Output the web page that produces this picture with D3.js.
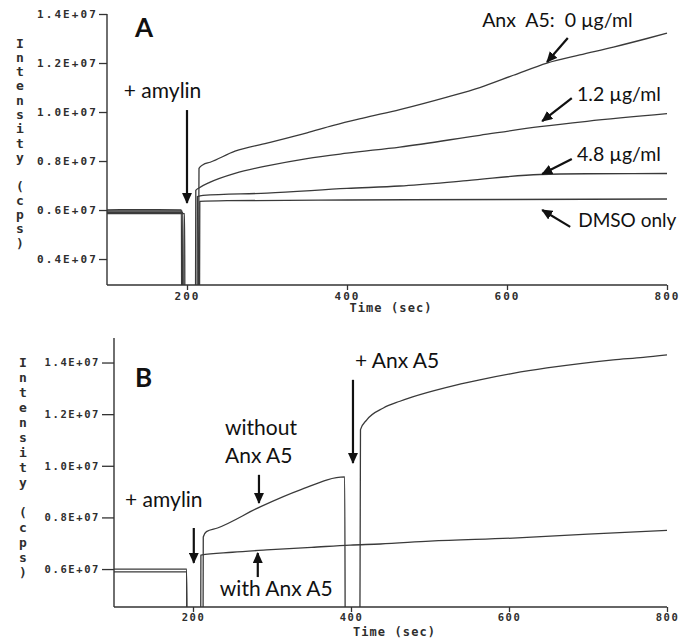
<!DOCTYPE html>
<html><head><meta charset="utf-8">
<script src="https://cdn.jsdelivr.net/npm/d3@7"></script>
<style>
body{margin:0;background:#fff;}
svg{display:block;}
.tick text,.axlab{font-family:"DejaVu Sans Mono",monospace;font-weight:bold;fill:#2e2e2e;}
.ann{font-family:Lato,"Open Sans",sans-serif;fill:#111;}
</style></head>
<body>
<svg id="c" width="684" height="639"></svg>
<script>
// ---- data (intensity in units of 1E+07 cps, time in sec) ----
const xTicks = [200, 400, 600, 800];
const xTickLabels = ["200", "400", "600", "800"];
const yTicksA = [0.4, 0.6, 0.8, 1.0, 1.2, 1.4];
const yTicksB = [0.6, 0.8, 1.0, 1.2, 1.4];
const yTickLabelsA = ["0.4E+07", "0.6E+07", "0.8E+07", "1.0E+07", "1.2E+07", "1.4E+07"];
const yTickLabelsB = ["0.6E+07", "0.8E+07", "1.0E+07", "1.2E+07", "1.4E+07"];

// Panel A : Anx A5 0 µg/ml
const tA0 = [100,150,193,193.5,214,215,220,229,260,300,350,383,420,466,525,566,608,650,691,733,775,800];
const vA0 = [0.601,0.602,0.601,0.05,0.05,0.77,0.785,0.795,0.84,0.873,0.915,0.945,0.975,1.01,1.061,1.10,1.15,1.20,1.233,1.265,1.30,1.322];
// Panel A : 1.2 µg/ml
const tA1 = [100,150,194,194.5,210.5,211,215,229,260,300,350,400,466,566,641,700,800];
const vA1 = [0.596,0.596,0.596,0.05,0.05,0.68,0.69,0.714,0.75,0.78,0.81,0.832,0.857,0.905,0.94,0.962,0.993];
// Panel A : 4.8 µg/ml
const tA2 = [100,150,195,195.5,212.5,213,220,300,400,466,550,641,700,800];
const vA2 = [0.590,0.590,0.590,0.05,0.05,0.655,0.66,0.669,0.688,0.698,0.72,0.745,0.748,0.749];
// Panel A : DMSO only
const tA3 = [100,150,197,197.5,215.5,216,250,400,600,800];
const vA3 = [0.585,0.585,0.585,0.05,0.05,0.635,0.638,0.641,0.643,0.645];

// Panel B : with Anx A5
const tB1 = [100,150,192,192.5,209.5,210,250,293,350,399,437,500,605,700,800];
const vB1 = [0.600,0.600,0.600,0.1,0.1,0.654,0.665,0.674,0.684,0.693,0.697,0.708,0.72,0.735,0.75];
// Panel B : without Anx A5, then + Anx A5
const tB0 = [100,150,192,192.5,212.5,213,217,231,285,335,392,393,411,412,420,441,462,478,520,563,605,648,690,732,770,800];
const vB0 = [0.589,0.589,0.589,0.1,0.1,0.724,0.745,0.759,0.841,0.906,0.957,0.1,0.1,1.14,1.178,1.224,1.25,1.267,1.303,1.333,1.358,1.379,1.396,1.41,1.42,1.43];

// ---- drawing ----
const svg = d3.select("#c");
const defs = svg.append("defs");
defs.append("marker").attr("id","ah").attr("markerUnits","userSpaceOnUse")
  .attr("viewBox","0 0 11 10").attr("refX",10).attr("refY",5)
  .attr("markerWidth",11).attr("markerHeight",10).attr("orient","auto")
  .append("path").attr("d","M0,0L11,5L0,10Z").attr("fill","#111");

function zip(t, v){ return t.map((d,i)=>[d, v[i]]); }

function panel(cfg){
  const x = d3.scaleLinear().domain([100, 800]).range(cfg.xr);
  const y = d3.scaleLinear().domain(cfg.yd).range(cfg.yr);
  const g = svg.append("g");
  const cid = "clip" + cfg.id;
  defs.append("clipPath").attr("id", cid).append("rect")
    .attr("x", cfg.xr[0]).attr("y", 0).attr("width", cfg.xr[1]-cfg.xr[0]+2)
    .attr("height", cfg.yr[0]);
  const line = d3.line().x(d=>x(d[0])).y(d=>y(d[1])).curve(d3.curveMonotoneX);
  g.append("g").attr("clip-path", `url(#${cid})`).selectAll("path")
    .data(cfg.series).join("path")
    .attr("d", d=>line(d)).attr("fill","none").attr("stroke","#3a3a3a")
    .attr("stroke-width",1.3).attr("stroke-linejoin","round");

  // y axis
  const ya = g.append("g").attr("transform",`translate(${cfg.xr[0]},0)`)
    .call(d3.axisLeft(y).tickValues(cfg.yTicks).tickFormat((d,i)=>cfg.yLabels[i])
      .tickSize(cfg.ytl).tickPadding(cfg.ytp));
  ya.select(".domain").remove();
  ya.selectAll("line").attr("stroke","#333").attr("stroke-width",1.3);
  ya.selectAll("text").style("font-size",cfg.tfs+"px").style("letter-spacing",cfg.tls+"px");
  g.append("line").attr("x1",cfg.xr[0]).attr("x2",cfg.xr[0])
    .attr("y1",cfg.axTop).attr("y2",cfg.yr[0]).attr("stroke","#333").attr("stroke-width",1.4);

  // x axis
  const xa = g.append("g").attr("transform",`translate(0,${cfg.yr[0]})`)
    .call(d3.axisBottom(x).tickValues(xTicks).tickFormat((d,i)=>xTickLabels[i])
      .tickSize(5).tickPadding(2));
  xa.select(".domain").remove();
  xa.selectAll("line").attr("stroke","#333").attr("stroke-width",1.3);
  xa.selectAll("text").style("font-size",cfg.tfs+"px").style("letter-spacing",cfg.tls+"px");
  g.append("line").attr("x1",cfg.xr[0]).attr("x2",x(800))
    .attr("y1",cfg.yr[0]).attr("y2",cfg.yr[0]).attr("stroke","#333").attr("stroke-width",1.4);

  // axis titles
  g.append("text").attr("class","axlab").attr("x",(x(100)+x(800))/2+4).attr("y",cfg.yr[0]+cfg.xtDy)
    .attr("text-anchor","middle").style("font-size","12px").style("letter-spacing","1.1px")
    .text("Time (sec)");
  const letters = "Intensity (cps)".split("");
  g.selectAll(".vl").data(letters).join("text").attr("class","axlab vl")
    .attr("x",cfg.ylx).attr("y",(d,i)=>cfg.yl0 + i*cfg.ylStep + 4.5)
    .attr("text-anchor","middle").style("font-size","13px").text(d=>d);

  // annotations (positions in data units)
  g.selectAll(".ann").data(cfg.texts).join("text").attr("class","ann")
    .attr("x",d=>x(d.t)).attr("y",d=>y(d.v))
    .style("font-size",d=>d.size+"px").style("font-weight",d=>d.bold?"bold":"normal")
    .attr("xml:space","preserve").text(d=>d.s);
  g.selectAll(".arr").data(cfg.arrows).join("line").attr("class","arr")
    .attr("x1",d=>x(d[0])).attr("y1",d=>y(d[1])).attr("x2",d=>x(d[2])).attr("y2",d=>y(d[3]))
    .attr("stroke","#111").attr("stroke-width",2.2).attr("marker-end","url(#ah)");
}

panel({
  id:"A", xr:[107,667], yd:[0.294,1.4], yr:[285,14], axTop:14,
  yTicks:yTicksA, yLabels:yTickLabelsA, ytl:8, ytp:1, tfs:11, tls:2.1,
  series:[zip(tA0,vA0), zip(tA1,vA1), zip(tA2,vA2), zip(tA3,vA3)],
  xtDy:27, ylx:20, yl0:43, ylStep:14.3,
  texts:[
    {t:135, v:1.306, s:"A", size:26, bold:true},
    {t:121, v:1.057, s:"+ amylin", size:21},
    {t:569, v:1.347, s:"Anx  A5:  0 µg/ml", size:19.5},
    {t:687.5, v:1.045, s:"1.2 µg/ml", size:19.5},
    {t:687.5, v:0.800, s:"4.8 µg/ml", size:19.5},
    {t:689, v:0.531, s:"DMSO only", size:19}
  ],
  arrows:[
    [676,1.302,650,1.204],
    [200,1.008,200,0.629],
    [681,1.057,644,0.963],
    [681,0.808,644,0.747],
    [679,0.531,644,0.600]
  ]
});

panel({
  id:"B", xr:[114,667], yd:[0.453,1.495], yr:[607,338], axTop:338,
  yTicks:yTicksB, yLabels:yTickLabelsB, ytl:12, ytp:2, tfs:10.5, tls:1.6,
  series:[zip(tB1,vB1), zip(tB0,vB0)],
  xtDy:29, ylx:23, yl0:362, ylStep:15,
  texts:[
    {t:126.6, v:1.305, s:"B", size:26, bold:true},
    {t:240.5, v:1.12, s:"without", size:21},
    {t:240.5, v:1.011, s:"Anx A5", size:21},
    {t:114, v:0.841, s:"+ amylin", size:21},
    {t:234, v:0.496, s:"with Anx A5", size:21},
    {t:405, v:1.379, s:"+ Anx A5", size:21}
  ],
  arrows:[
    [283.5,0.965,283.5,0.856],
    [201,0.759,201,0.624],
    [282,0.569,282,0.662],
    [402.5,1.333,402.5,1.011]
  ]
});
</script>
</body></html>
